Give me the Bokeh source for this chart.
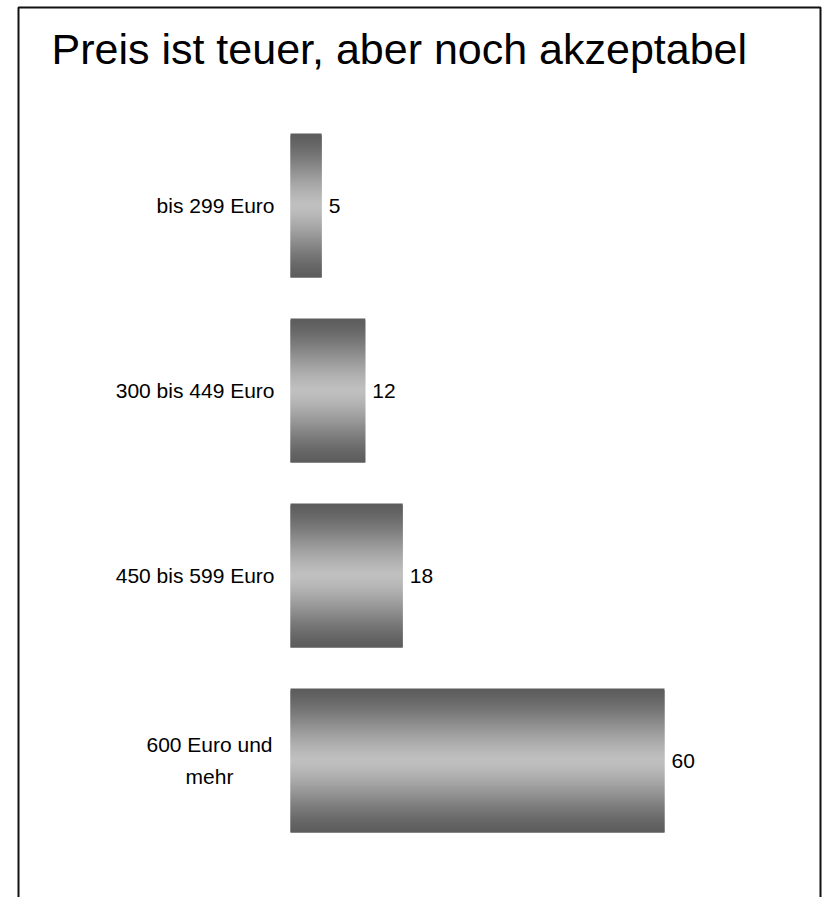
import numpy as np
from bokeh.plotting import figure
from bokeh.models import ColumnDataSource, Range1d, BoxAnnotation
from bokeh.core.properties import value
from bokeh.embed import file_html
from bokeh.resources import INLINE

# ---- data ----
title_text = "Preis ist teuer, aber noch akzeptabel"
categories = ["bis 299 Euro", "300 bis 449 Euro", "450 bis 599 Euro", "600 Euro und\nmehr"]
values = [5, 12, 18, 60]

# ---- layout (canvas pixels) ----
W, H = 822, 897
PX_PER_UNIT = 374 / 60.0
X0 = 290          # canvas x of value 0
Y0 = 205          # canvas y of first category centre
PITCH = 185       # canvas px between categories
BAR_PX = 144      # bar thickness in px
BAR_H = BAR_PX / PITCH
FONT = value("Liberation Sans")


def xd(px):
    return (px - X0) / PX_PER_UNIT


def yd(py):
    return (py - Y0) / PITCH


p = figure(width=W, height=H, output_backend="svg", toolbar_location=None,
           x_range=Range1d(xd(0), xd(W)), y_range=Range1d(yd(H), yd(0)),
           x_axis_location=None, y_axis_location=None, min_border=0,
           outline_line_color=None, background_fill_color="white",
           border_fill_color="white")
p.xgrid.visible = False
p.ygrid.visible = False

# ---- gradient bars (overlapping horizontal strips, drawn top to bottom) ----
DARK, LIGHT = 92, 192
N = BAR_PX // 2
dh = BAR_H / N
ov = 2.0 / PITCH
ys, rights, hs, cols = [], [], [], []
for i, v in enumerate(values):
    for s in range(N):
        u = (s + 0.5) / N
        t = 1 - abs(2 * u - 1)
        f = 0.5 * (t + t * t * (3 - 2 * t))   # softened peak
        g = int(round(DARK + (LIGHT - DARK) * f))
        top = i - BAR_H / 2 + s * dh
        bot = top + dh + (ov if s < N - 1 else 0.0)
        ys.append((top + bot) / 2)
        hs.append(bot - top)
        rights.append(v)
        cols.append("#%02x%02x%02x" % (g, g, g))
strips = ColumnDataSource(dict(y=ys, right=rights, h=hs, c=cols))
p.hbar(y="y", left=0, right="right", height="h", fill_color="c",
       line_color=None, source=strips)

# ---- value labels ----
vsrc = ColumnDataSource(dict(x=[v + 7 / PX_PER_UNIT for v in values],
                             y=list(range(len(values))),
                             t=[str(v) for v in values]))
p.text(x="x", y="y", text="t", source=vsrc, text_font=FONT,
       text_font_size="21px", text_color="black", text_align="left",
       text_baseline="middle")

# ---- category labels ----
single = [(i, c) for i, c in enumerate(categories) if "\n" not in c]
multi = [(i, c) for i, c in enumerate(categories) if "\n" in c]
ssrc = ColumnDataSource(dict(x=[xd(274)] * len(single), y=[i for i, _ in single],
                             t=[c for _, c in single]))
p.text(x="x", y="y", text="t", source=ssrc, text_font=FONT,
       text_font_size="21px", text_color="black", text_align="right",
       text_baseline="middle")
msrc = ColumnDataSource(dict(x=[xd(209)] * len(multi), y=[i for i, _ in multi],
                             t=[c for _, c in multi]))
p.text(x="x", y="y", text="t", source=msrc, text_font=FONT,
       text_font_size="21px", text_color="black", text_align="center",
       text_baseline="middle", text_line_height=1.35)

# ---- title ----
tsrc = ColumnDataSource(dict(x=[xd(51)], y=[yd(48)], t=[title_text]))
p.text(x="x", y="y", text="t", source=tsrc, text_font=FONT,
       text_font_size="43px", text_color="black", text_align="left",
       text_baseline="middle")

# ---- frame (left, top, right; bottom is below the visible page) ----
p.add_layout(BoxAnnotation(left=xd(18), right=xd(820), top=yd(7), bottom=yd(H + 20),
                           fill_alpha=0, line_color="#111111", line_alpha=1.0,
                           line_width=2))

open("out.html", "w").write(file_html(p, INLINE))
